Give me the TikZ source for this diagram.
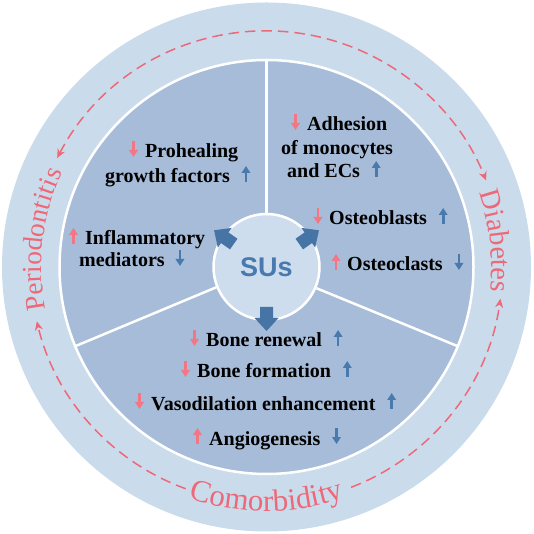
\documentclass[tikz,border=0pt]{standalone}
\usepackage{fontspec}
\setmainfont{Liberation Serif}
\newfontfamily\susfont{Liberation Sans}
\usetikzlibrary{arrows.meta,decorations.text}
\definecolor{ringc}{RGB}{202,220,236}
\definecolor{diskc}{RGB}{167,188,216}
\definecolor{hubc}{RGB}{205,221,237}
\definecolor{pinkc}{RGB}{238,104,120}
\definecolor{pinka}{RGB}{242,118,132}
\definecolor{bluec}{RGB}{72,122,174}
\definecolor{blockc}{RGB}{69,116,165}
\newcommand{\curvefont}{\fontsize{28.5}{28.5}\selectfont}
\newcommand{\periofont}{\fontsize{27.5}{27.5}\selectfont}
\newcommand{\comofont}{\fontsize{31}{31}\selectfont}
\tikzset{
  lbl/.style={font=\fontsize{20}{22}\selectfont\bfseries, inner sep=0pt, text=black},
  pkarr/.style={draw=pinka, line width=2.7pt, -{Triangle[length=7pt,width=8.5pt]}},
  blarr/.style={draw=bluec, line width=2.7pt, -{Triangle[length=7pt,width=8.5pt]}},
  divider/.style={draw=white, line width=2.5pt},
  dasharc/.style={draw=pinkc, line width=1.5pt, dash pattern=on 10.5pt off 6pt},
  blockarrow/.style={fill=blockc},
  curved/.style={decorate, decoration={text along path, text align=center, text color=pinkc}}
}
\begin{document}
\begin{tikzpicture}[x=1pt,y=1pt]
\useasboundingbox (-266.5,-267) rectangle (266.5,267);
% rings
\fill[ringc] (0,0) circle[radius=264.5];
\filldraw[fill=diskc, draw=white, line width=2.5pt] (0,0) circle[radius=207];
% hub
\node[circle, minimum size=106pt, inner sep=0pt, fill=hubc, draw=white, line width=2.5pt,
      font=\susfont\bfseries\fontsize{27}{27}\selectfont, text=bluec] (hub) at (0,0) {SUs};
% dividers
\draw[divider] (hub.90) -- (90:207);
\draw[divider] (hub.202.5) -- (202.5:207);
\draw[divider] (hub.337.5) -- (337.5:207);
% block arrows
\foreach \a in {145,35,270}{
  \fill[blockarrow, rotate=\a] (40,-6.5) -- (51,-6.5) -- (51,-12) -- (64,0) -- (51,12) -- (51,6.5) -- (40,6.5) -- cycle;
}
% labels upper-left
\node[lbl, anchor=base west] (pro) at (-121.5,109) {Prohealing};
\node[lbl, anchor=base west] (gro) at (-161.5,84) {growth factors};
\draw[pkarr] ([xshift=-11.5pt,yshift=17pt]pro.base west) -- ([xshift=-11.5pt,yshift=1pt]pro.base west);
\draw[blarr] ([xshift=16pt,yshift=1pt]gro.base east) -- ([xshift=16pt,yshift=17pt]gro.base east);
\node[lbl, anchor=base west] (inf) at (-181.5,22) {Inflammatory};
\node[lbl, anchor=base west] (med) at (-187.5,0) {mediators};
\draw[pkarr] ([xshift=-11.5pt,yshift=1pt]inf.base west) -- ([xshift=-11.5pt,yshift=17pt]inf.base west);
\draw[blarr] ([xshift=15pt,yshift=17pt]med.base east) -- ([xshift=15pt,yshift=1pt]med.base east);
% labels upper-right
\node[lbl, anchor=base west] (adh) at (40.5,136) {Adhesion};
\node[lbl, anchor=base west] (mono) at (14.5,112) {of monocytes};
\node[lbl, anchor=base west] (ecs) at (20.5,89) {and ECs};
\draw[pkarr] ([xshift=-11.5pt,yshift=17pt]adh.base west) -- ([xshift=-11.5pt,yshift=1pt]adh.base west);
\draw[blarr] ([xshift=16pt,yshift=1pt]ecs.base east) -- ([xshift=16pt,yshift=17pt]ecs.base east);
\node[lbl, anchor=base west] (ob) at (62.5,42) {Osteoblasts};
\draw[pkarr] ([xshift=-11pt,yshift=17pt]ob.base west) -- ([xshift=-11pt,yshift=1pt]ob.base west);
\draw[blarr] ([xshift=16pt,yshift=1pt]ob.base east) -- ([xshift=16pt,yshift=17pt]ob.base east);
\node[lbl, anchor=base west] (oc) at (80.5,-4) {Osteoclasts};
\draw[pkarr] ([xshift=-11pt,yshift=1pt]oc.base west) -- ([xshift=-11pt,yshift=17pt]oc.base west);
\draw[blarr] ([xshift=16pt,yshift=17pt]oc.base east) -- ([xshift=16pt,yshift=1pt]oc.base east);
% labels bottom
\node[lbl, anchor=base west] (br) at (-60.5,-80) {Bone renewal};
\draw[pkarr] ([xshift=-11.5pt,yshift=17pt]br.base west) -- ([xshift=-11.5pt,yshift=1pt]br.base west);
\draw[blarr] ([xshift=16pt,yshift=1pt]br.base east) -- ([xshift=16pt,yshift=17pt]br.base east);
\node[lbl, anchor=base west] (bf) at (-69.5,-111) {Bone formation};
\draw[pkarr] ([xshift=-11.5pt,yshift=17pt]bf.base west) -- ([xshift=-11.5pt,yshift=1pt]bf.base west);
\draw[blarr] ([xshift=16pt,yshift=1pt]bf.base east) -- ([xshift=16pt,yshift=17pt]bf.base east);
\node[lbl, anchor=base west] (vas) at (-115.5,-143) {Vasodilation enhancement};
\draw[pkarr] ([xshift=-11.5pt,yshift=17pt]vas.base west) -- ([xshift=-11.5pt,yshift=1pt]vas.base west);
\draw[blarr] ([xshift=16pt,yshift=1pt]vas.base east) -- ([xshift=16pt,yshift=17pt]vas.base east);
\node[lbl, anchor=base west] (ang) at (-57.5,-178) {Angiogenesis};
\draw[pkarr] ([xshift=-11.5pt,yshift=1pt]ang.base west) -- ([xshift=-11.5pt,yshift=17pt]ang.base west);
\draw[blarr] ([xshift=16pt,yshift=17pt]ang.base east) -- ([xshift=16pt,yshift=1pt]ang.base east);
% dashed cycle arcs
\draw[dasharc, {Stealth[length=9pt,width=8pt]}-{Stealth[length=9pt,width=8pt]}] (152.5:236) arc[start angle=152.5, end angle=21.5, radius=236];
\draw[dasharc, -{Stealth[length=9pt,width=8pt]}] (-69:236) arc[start angle=-69, end angle=-7.7, radius=236];
\draw[dasharc, -{Stealth[length=9pt,width=8pt]}] (250:236) arc[start angle=250, end angle=193.3, radius=236];
% curved labels
\path[curved, decoration={text={|\periofont|Periodontitis}}] (213:225) arc[start angle=213, end angle=133, radius=225];
\path[curved, decoration={text={|\curvefont|Diabetes}}] (46.5:225) arc[start angle=46.5, end angle=-33.5, radius=225];
\path[curved, decoration={text={|\comofont|Comorbidity}}] (230:244) arc[start angle=230, end angle=310, radius=244];
\end{tikzpicture}
\end{document}
